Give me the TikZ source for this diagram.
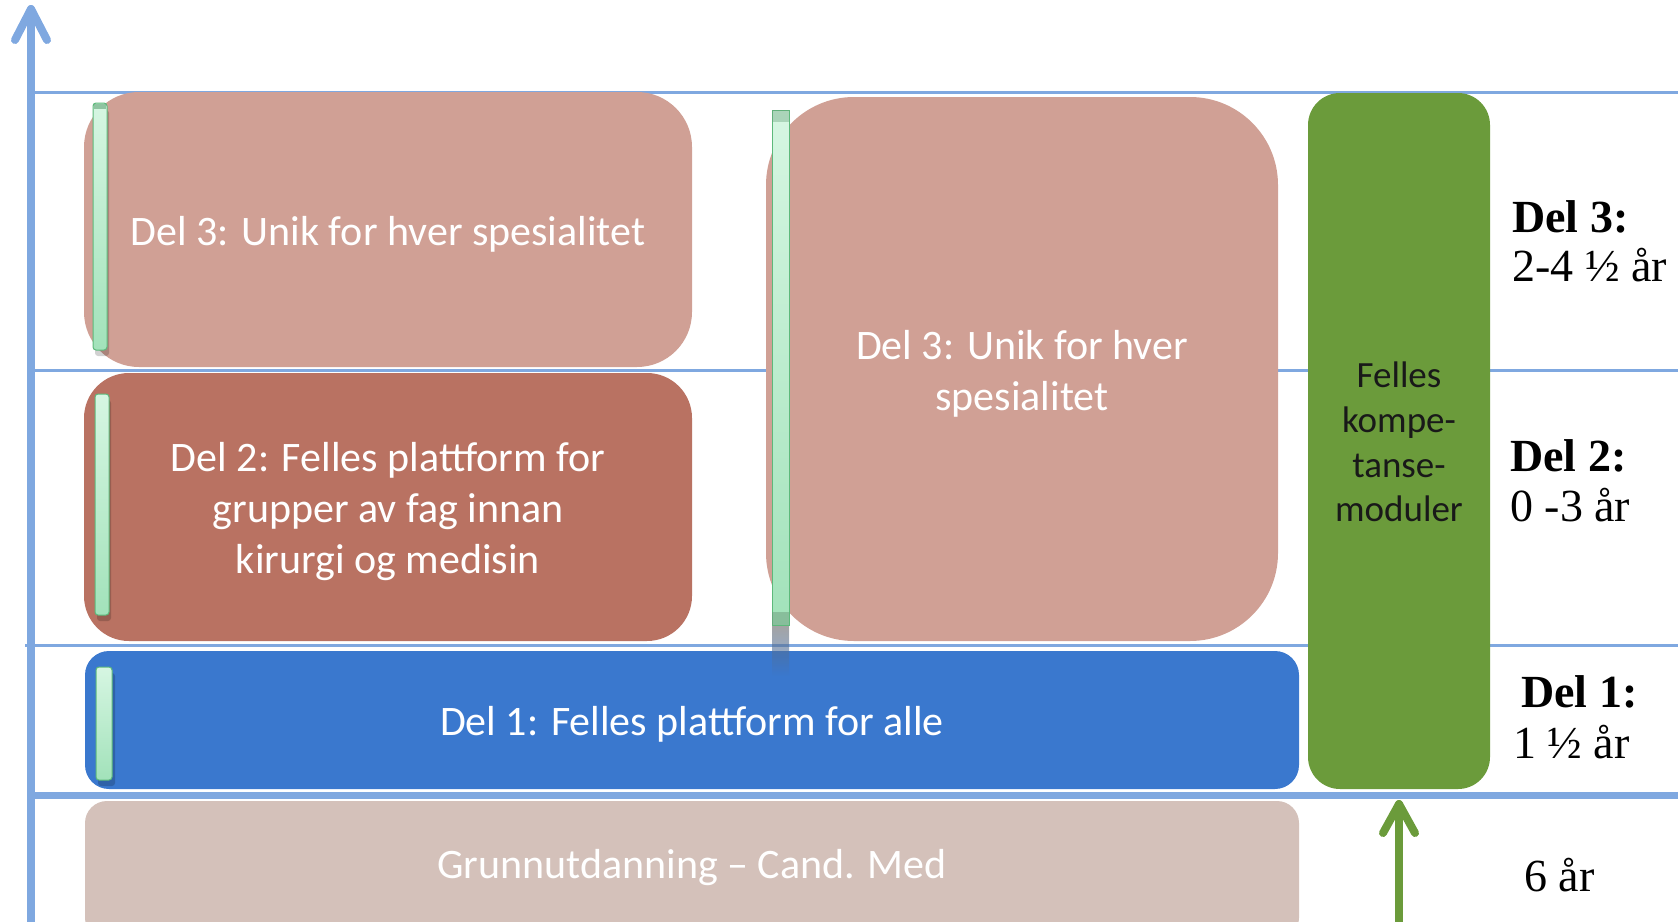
\documentclass[tikz,border=0pt]{standalone}
\usepackage{fontspec}
\setmainfont{Carlito}
\newfontfamily\rserif{Liberation Serif}
\definecolor{axisblue}{HTML}{7FA8E0}
\definecolor{delthree}{HTML}{D0A095}
\definecolor{deltwo}{HTML}{B97262}
\definecolor{delone}{HTML}{3A78CE}
\definecolor{grunn}{HTML}{D4C1BA}
\definecolor{fgreen}{HTML}{6B9B3B}
\definecolor{barlight}{HTML}{D6F6E2}
\definecolor{bardark}{HTML}{A2E2BA}
\definecolor{baredge}{HTML}{5DB97B}
\tikzset{
  gridline/.style={draw=axisblue, line width=3pt},
  boxtext/.style={text=white, align=center, font=\fontsize{42}{51}\selectfont, inner sep=0pt},
  sidelabel/.style={anchor=base west, inner sep=0pt, font=\rserif\fontsize{46}{50}\selectfont},
  sidebold/.style={sidelabel, font=\rserif\bfseries\fontsize{46}{50}\selectfont},
  bar/.style={top color=barlight, bottom color=bardark, draw=baredge, line width=1pt, rounded corners=3pt},
  barshadow/.style={fill=black, opacity=0.18, rounded corners=3pt},
  arrowline/.style={line width=8pt, line cap=round, line join=round}
}
\begin{document}
\begin{tikzpicture}[x=1pt,y=-1pt]
\useasboundingbox (0,0) rectangle (1678,921);
% grid lines
\coordinate (l1a) at (31,92);  \coordinate (l1b) at (1678,92);
\coordinate (l2a) at (31,370); \coordinate (l2b) at (1678,370);
\coordinate (l3a) at (25,645); \coordinate (l3b) at (1678,645);
\coordinate (l4a) at (31,795); \coordinate (l4b) at (1678,795);
\draw[gridline] (l1a) -- (l1b);
\draw[gridline] (l2a) -- (l2b);
\draw[gridline] (l3a) -- (l3b);
\draw[draw=axisblue, line width=7pt] (l4a) -- (l4b);
% vertical axis
\coordinate (axbot) at (31,925);
\coordinate (axtop) at (31,9);
\draw[axisblue, arrowline] (axbot) -- (axtop);
\draw[axisblue, arrowline] (15,40) -- (axtop) -- (47,40);
% boxes
\fill[delthree, rounded corners=55pt] (84,92) rectangle (692,367);
\node[boxtext] (t3a) at (388,234) {Del 3: Unik for hver spesialitet};
\fill[deltwo, rounded corners=45pt] (84,373) rectangle (692,641);
\node[boxtext] (t2) at (388,512) {Del 2: Felles plattform for\\grupper av fag innan\\kirurgi og medisin};
\fill[delthree, rounded corners=88pt] (766,97) rectangle (1278,641);
\node[boxtext] (t3b) at (1022,374) {Del 3: Unik for hver\\spesialitet};
\fill[delone, rounded corners=24pt] (85,651) rectangle (1299,789);
\node[boxtext] (t1) at (692,724) {Del 1: Felles plattform for alle};
\fill[grunn, rounded corners=22pt] (85,801) rectangle (1299,940);
\node[boxtext] (tg) at (692,868) {Grunnutdanning -- Cand. Med};
\fill[fgreen, rounded corners=32pt] (1308,93) rectangle (1490,789);
\node[inner sep=0pt, align=center, text=black!90, font=\fontsize{37}{44.6}\selectfont] (tf) at (1399,442) {Felles\\kompe-\\tanse-\\moduler};
% green arrow
\coordinate (gbot) at (1399,925);
\coordinate (gtop) at (1399,804);
\draw[fgreen, arrowline] (gbot) -- (gtop);
\draw[fgreen, arrowline] (1383,833) -- (gtop) -- (1415,833);
% bars with shadows
\fill[barshadow] (95,110) rectangle (109,356);
\shade[bar] (93,103) rectangle (107,350);
\fill[baredge!80!black, opacity=0.5] (94,104) rectangle (106,109);
\fill[barshadow] (97,400) rectangle (111,621);
\shade[bar] (95,394) rectangle (109,615);
\fill[barshadow] (98,673) rectangle (115,786);
\shade[bar] (96,667) rectangle (112,780);
% middle bar
\shade[top color=black!60, bottom color=delone, opacity=0.6] (772,625) rectangle (789,676);
\shade[bar, rounded corners=0pt] (772,110) rectangle (789,625);
\fill[gray!40!baredge, opacity=0.4] (772,110) rectangle (789,122);
\fill[gray!50!baredge, opacity=0.5] (772,612) rectangle (789,625);
% side labels
\node[sidebold] (s3a) at (1512,232) {Del 3:};
\node[sidelabel] (s3b) at (1512,281) {2-4 ½ år};
\node[sidebold] (s2a) at (1510,471) {Del 2:};
\node[sidelabel] (s2b) at (1510,521) {0 -3 år};
\node[sidebold] (s1a) at (1521,707) {Del 1:};
\node[sidelabel] (s1b) at (1513,758) {1 ½ år};
\node[sidelabel] (s0) at (1524,891) {6 år};
\end{tikzpicture}
\end{document}
